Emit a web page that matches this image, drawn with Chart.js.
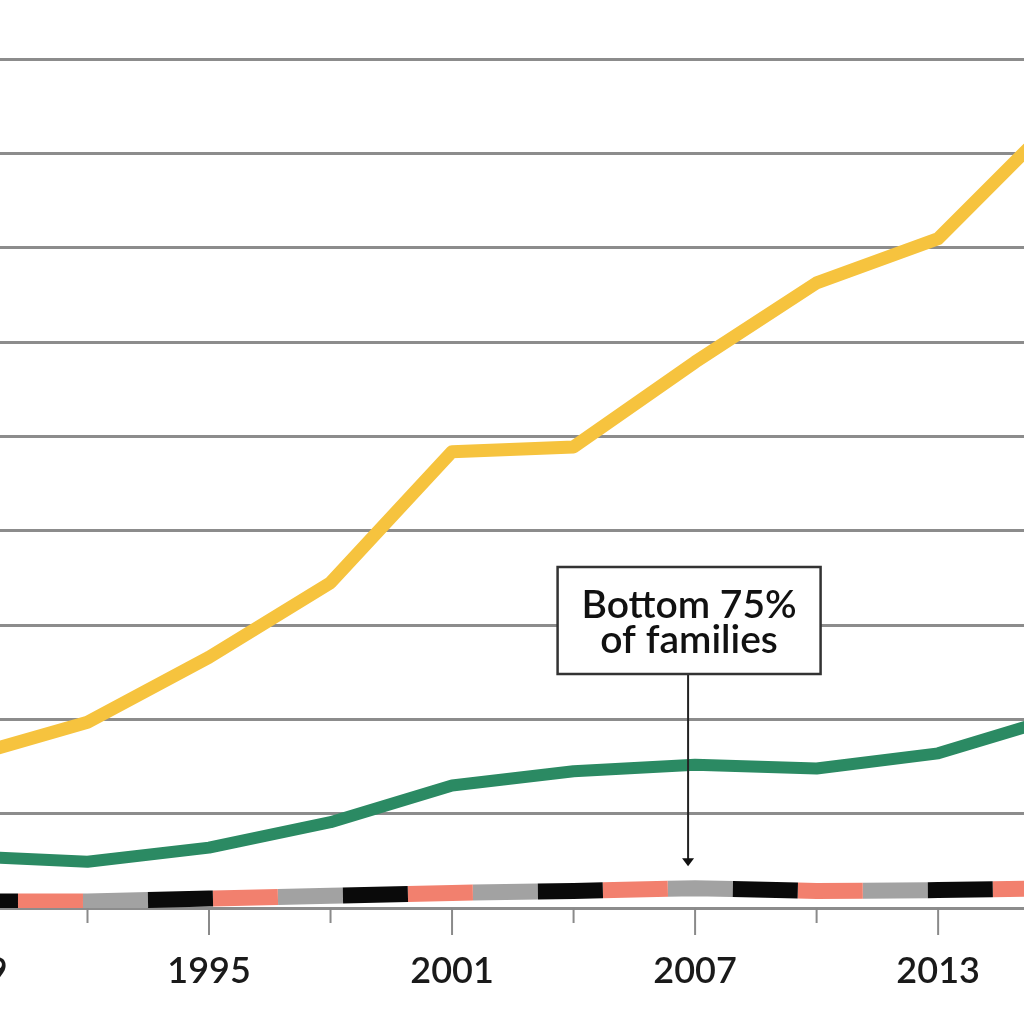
<!DOCTYPE html>
<html>
<head>
<meta charset="utf-8">
<script src="https://cdn.jsdelivr.net/npm/chart.js@4/dist/chart.umd.min.js"></script>
<style>
  html, body { margin: 0; padding: 0; background: #fff; }
  #wrap { width: 1024px; height: 1024px; }
</style>
</head>
<body>
<div id="wrap"><canvas id="wealth-chart"></canvas></div>
<script>
// survey years (every 3 years)
const years      = [1989, 1992, 1995, 1998, 2001, 2004, 2007, 2010, 2013, 2016];
const topFamilies  = [16.0, 19.7, 26.6, 34.5, 48.4, 48.9, 57.9, 66.3, 71.0, 83.9];
const nextFamilies = [5.5, 4.9, 6.4, 9.1, 13.0, 14.5, 15.2, 14.8, 16.4, 20.3];
const bottom75     = [0.7, 0.7, 1.0, 1.3, 1.6, 1.8, 2.1, 1.8, 1.9, 2.1];

const labelYears = [1989, 1995, 2001, 2007, 2013];
const minorYears = [1992, 1998, 2004, 2010, 2016];
const calloutLines = ['Bottom 75%', 'of families'];
const calloutYear  = 2007;

const toXY = arr => years.map((y, i) => ({ x: y, y: arr[i] }));

// tri-colour dash: each colour is a 65px dash with a 130px gap, phase shifted
const dashBase = 13;
function dashSet(color, offset) {
  return {
    data: toXY(bottom75),
    borderColor: color,
    borderWidth: 16,
    borderDash: [65, 130],
    borderDashOffset: dashBase + offset,
    borderCapStyle: 'butt',
    pointRadius: 0,
    tension: 0
  };
}

const axisDecor = {
  id: 'axisDecor',
  afterDraw(chart) {
    const ctx = chart.ctx;
    const xs = chart.scales.x;
    const base = chart.chartArea.bottom;
    ctx.save();
    ctx.strokeStyle = '#8a8a8a';
    ctx.lineWidth = 2;
    labelYears.forEach(y => {
      const px = xs.getPixelForValue(y);
      ctx.beginPath(); ctx.moveTo(px, base); ctx.lineTo(px, base + 27); ctx.stroke();
    });
    minorYears.forEach(y => {
      const px = xs.getPixelForValue(y);
      ctx.beginPath(); ctx.moveTo(px, base); ctx.lineTo(px, base + 15); ctx.stroke();
    });
    ctx.fillStyle = '#1a1a1a';
    ctx.font = '600 36px Lato';
    ctx.textAlign = 'center';
    ctx.textBaseline = 'middle';
    labelYears.forEach(y => {
      ctx.fillText(String(y), xs.getPixelForValue(y), base + 63);
    });
    ctx.restore();
  },
  afterDatasetsDraw(chart) {
    const ctx = chart.ctx;
    const xs = chart.scales.x, ys = chart.scales.y;
    const i = years.indexOf(calloutYear);
    const ax = xs.getPixelForValue(calloutYear) - 7;
    const tipY = ys.getPixelForValue(bottom75[i]) - 22;
    const boxW = 263, boxH = 107;
    const boxX = ax - boxW / 2 + 1, boxY = 567;
    ctx.save();
    // arrow
    ctx.strokeStyle = '#222';
    ctx.lineWidth = 2;
    ctx.beginPath(); ctx.moveTo(ax, boxY + boxH); ctx.lineTo(ax, tipY - 6); ctx.stroke();
    ctx.fillStyle = '#111';
    ctx.beginPath();
    ctx.moveTo(ax - 6, tipY - 8); ctx.lineTo(ax + 6, tipY - 8); ctx.lineTo(ax, tipY); ctx.closePath();
    ctx.fill();
    // box
    ctx.fillStyle = '#fff';
    ctx.fillRect(boxX, boxY, boxW, boxH);
    ctx.strokeStyle = '#333';
    ctx.lineWidth = 2.5;
    ctx.strokeRect(boxX, boxY, boxW, boxH);
    ctx.fillStyle = '#111';
    ctx.font = '600 39px Lato';
    ctx.textAlign = 'center';
    ctx.textBaseline = 'middle';
    ctx.fillText(calloutLines[0], boxX + boxW / 2, boxY + 38);
    ctx.fillText(calloutLines[1], boxX + boxW / 2, boxY + 73);
    ctx.restore();
  }
};

const ctx = document.getElementById('wealth-chart').getContext('2d');
new Chart(ctx, {
  type: 'line',
  data: {
    datasets: [
      {
        data: toXY(topFamilies),
        borderColor: '#f6c33e',
        borderWidth: 13,
        borderJoinStyle: 'round',
        pointRadius: 0
      },
      {
        data: toXY(nextFamilies),
        borderColor: '#2b8a63',
        borderWidth: 12,
        borderJoinStyle: 'round',
        pointRadius: 0
      },
      dashSet('#0a0a0a', 0),
      dashSet('#f2806e', 130),
      dashSet('#a2a2a2', 65)
    ]
  },
  options: {
    responsive: true,
    maintainAspectRatio: false,
    animation: false,
    layout: { padding: 0 },
    plugins: {
      legend: { display: false },
      tooltip: { enabled: false }
    },
    scales: {
      x: {
        type: 'linear',
        min: 1989.84,
        max: 2015.12,
        ticks: { display: false },
        grid: { display: false, drawTicks: false },
        border: { display: false },
        afterFit: s => { s.height = 116; }
      },
      y: {
        min: 0,
        max: 96.3,
        ticks: { display: false, stepSize: 10 },
        grid: {
          color: c => (c.tick && c.tick.value % 10 === 0) ? '#8c8c8c' : 'rgba(0,0,0,0)',
          lineWidth: 3,
          drawTicks: false
        },
        border: { display: false },
        afterFit: s => { s.width = 0; }
      }
    }
  },
  plugins: [axisDecor]
});
</script>
</body>
</html>
